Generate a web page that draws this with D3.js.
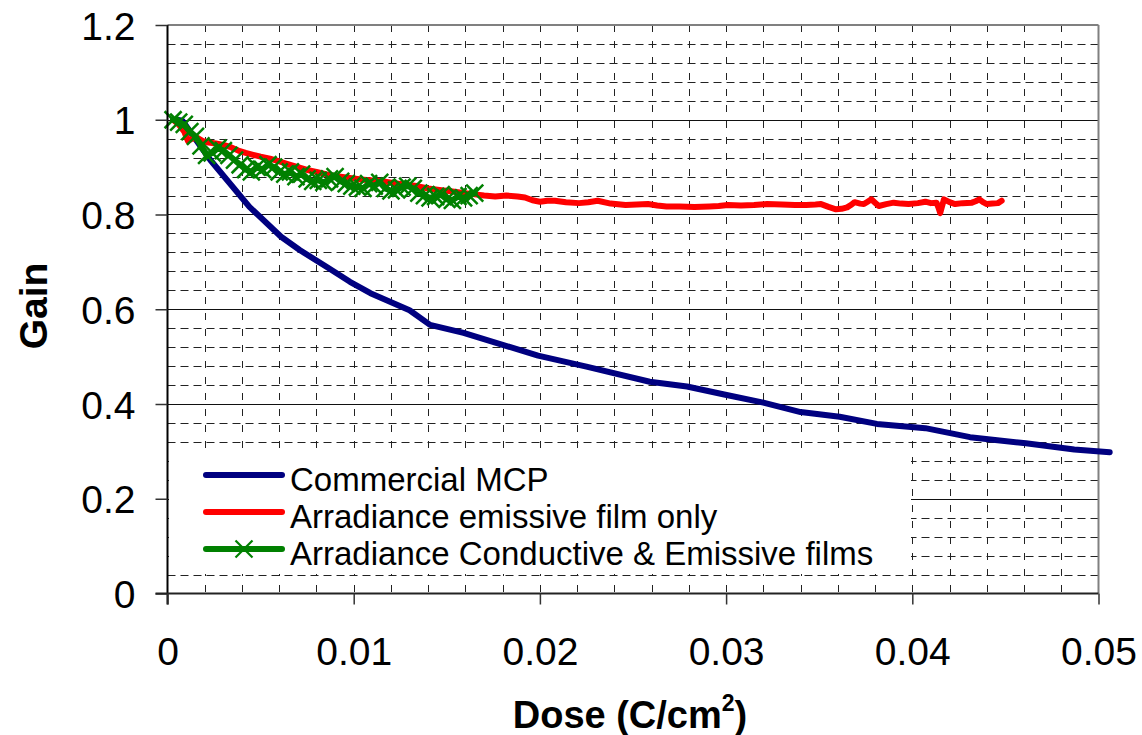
<!DOCTYPE html>
<html>
<head>
<meta charset="utf-8">
<script src="https://cdn.jsdelivr.net/npm/d3@7"></script>
<style>
  body { margin: 0; background: #fff; }
  svg { display: block; }
  text { font-family: "Liberation Sans", Arial, sans-serif; fill: #000; }
</style>
</head>
<body>
<svg id="chart" width="1142" height="735"></svg>
<script>
// ---- Data: gain vs. extracted charge dose ----
const seriesNames = [
  "Commercial MCP",
  "Arradiance emissive film only",
  "Arradiance Conductive & Emissive films"
];
const seriesColors = ["#000080", "#ff0000", "#008000"];

const mcpDose = [0.0005, 0.0008, 0.0023, 0.0044, 0.0061, 0.0071, 0.0086, 0.0098, 0.0109, 0.0130,
  0.0141, 0.0159, 0.0180, 0.0199, 0.0225, 0.0259, 0.0279, 0.0299, 0.0320, 0.0340,
  0.0361, 0.0381, 0.0407, 0.0431, 0.0461, 0.0487, 0.0506];
const mcpGain = [1.000, 0.998, 0.915, 0.816, 0.753, 0.725, 0.688, 0.658, 0.634, 0.598,
  0.567, 0.550, 0.525, 0.502, 0.479, 0.447, 0.437, 0.420, 0.403, 0.383,
  0.373, 0.358, 0.349, 0.330, 0.317, 0.304, 0.298];

const emissiveDose = [0.0003, 0.0006, 0.0009, 0.0011, 0.0013, 0.0016, 0.0019, 0.0022, 0.0026, 0.0030,
  0.0034, 0.0038, 0.0042, 0.0046, 0.0050, 0.0055, 0.0060, 0.0065, 0.0070, 0.0075,
  0.0080, 0.0086, 0.0092, 0.0098, 0.0104, 0.0110, 0.0116, 0.0122, 0.0128, 0.0134,
  0.0140, 0.0146, 0.0152, 0.0158, 0.0164, 0.0170, 0.0176, 0.0182, 0.0188, 0.0192,
  0.0196, 0.0200, 0.0204, 0.0208, 0.0214, 0.0221, 0.0226, 0.0231, 0.0238, 0.0246,
  0.0252, 0.0258, 0.0263, 0.0268, 0.0275, 0.0283, 0.0291, 0.0296, 0.0301, 0.0308,
  0.0315, 0.0322, 0.0330, 0.0337, 0.0343, 0.0348, 0.0351, 0.0355, 0.0359, 0.0362,
  0.0365, 0.0367, 0.0369, 0.0372, 0.0374, 0.0376, 0.0378, 0.0380, 0.0382, 0.0386,
  0.0390, 0.0394, 0.0398, 0.0403, 0.0407, 0.0410, 0.0413, 0.0414, 0.0415, 0.0417,
  0.0420, 0.0423, 0.0427, 0.0432, 0.0434, 0.0436, 0.0438, 0.0440, 0.0443, 0.0446,
  0.0448];
const emissiveGain = [1.000, 0.990, 0.975, 0.955, 0.960, 0.962, 0.955, 0.952, 0.950, 0.947,
  0.942, 0.935, 0.930, 0.926, 0.922, 0.918, 0.912, 0.906, 0.900, 0.894,
  0.890, 0.884, 0.880, 0.877, 0.874, 0.872, 0.870, 0.866, 0.863, 0.860,
  0.855, 0.852, 0.849, 0.846, 0.843, 0.840, 0.838, 0.840, 0.838, 0.836,
  0.830, 0.827, 0.829, 0.829, 0.826, 0.824, 0.826, 0.829, 0.823, 0.820,
  0.821, 0.822, 0.819, 0.817, 0.817, 0.816, 0.817, 0.818, 0.820, 0.819,
  0.820, 0.822, 0.821, 0.820, 0.820, 0.821, 0.822, 0.816, 0.811, 0.812,
  0.815, 0.820, 0.826, 0.823, 0.822, 0.827, 0.832, 0.825, 0.818, 0.822,
  0.825, 0.823, 0.822, 0.824, 0.827, 0.824, 0.825, 0.815, 0.803, 0.832,
  0.826, 0.822, 0.824, 0.825, 0.828, 0.832, 0.826, 0.822, 0.823, 0.824,
  0.829];

const dualDose = [0.0003, 0.0006, 0.0009, 0.0012, 0.0015, 0.0018, 0.0021, 0.0024, 0.0027, 0.0030,
  0.0033, 0.0036, 0.0039, 0.0042, 0.0045, 0.0048, 0.0051, 0.0054, 0.0057, 0.0060,
  0.0063, 0.0066, 0.0069, 0.0072, 0.0075, 0.0078, 0.0081, 0.0084, 0.0087, 0.0090,
  0.0093, 0.0096, 0.0099, 0.0102, 0.0105, 0.0108, 0.0111, 0.0114, 0.0117, 0.0120,
  0.0123, 0.0126, 0.0129, 0.0132, 0.0135, 0.0138, 0.0141, 0.0144, 0.0147, 0.0150,
  0.0153, 0.0156, 0.0159, 0.0162, 0.0165];
const dualGain = [1.000, 0.995, 0.990, 0.975, 0.965, 0.945, 0.925, 0.930, 0.940, 0.935,
  0.925, 0.915, 0.905, 0.895, 0.890, 0.900, 0.895, 0.905, 0.900, 0.890,
  0.885, 0.890, 0.880, 0.885, 0.875, 0.870, 0.872, 0.868, 0.875, 0.880,
  0.870, 0.865, 0.860, 0.858, 0.855, 0.865, 0.860, 0.868, 0.855, 0.850,
  0.852, 0.858, 0.860, 0.855, 0.845, 0.840, 0.835, 0.838, 0.842, 0.832,
  0.830, 0.838, 0.835, 0.840, 0.845];

const xTickValues = [0, 0.01, 0.02, 0.03, 0.04, 0.05];
const xTickLabels = ["0", "0.01", "0.02", "0.03", "0.04", "0.05"];
const yTickValues = [0, 0.2, 0.4, 0.6, 0.8, 1.0, 1.2];
const yTickLabels = ["0", "0.2", "0.4", "0.6", "0.8", "1", "1.2"];

// ---- Layout ----
const svg = d3.select("#chart");
const x = d3.scaleLinear().domain([0, 0.05]).range([167.5, 1098.5]);
const y = d3.scaleLinear().domain([0, 1.2]).range([593.5, 25]);

// ---- Grid ----
const grid = svg.append("g");
const minorX = d3.range(1, 25).map(i => i * 0.002);
const minorY = d3.range(1, 30).map(i => +(i * 0.04).toFixed(2)).filter(v => Math.abs(v / 0.2 - Math.round(v / 0.2)) > 1e-6);
const majorY = [0.2, 0.4, 0.6, 0.8, 1.0];

grid.selectAll(".vgrid").data(minorX).join("line")
  .attr("x1", d => Math.round(x(d)) + 0.5).attr("x2", d => Math.round(x(d)) + 0.5)
  .attr("y1", y(1.2)).attr("y2", y(0))
  .attr("stroke", "#222").attr("stroke-width", 1).attr("stroke-dasharray", "7,9");

grid.selectAll(".hgrid").data(minorY).join("line")
  .attr("x1", x(0)).attr("x2", x(0.05))
  .attr("y1", d => Math.round(y(d)) + 0.5).attr("y2", d => Math.round(y(d)) + 0.5)
  .attr("stroke", "#222").attr("stroke-width", 1).attr("stroke-dasharray", "8,5");

grid.selectAll(".hmajor").data(majorY).join("line")
  .attr("x1", x(0)).attr("x2", x(0.05))
  .attr("y1", d => Math.round(y(d)) + 0.5).attr("y2", d => Math.round(y(d)) + 0.5)
  .attr("stroke", "#111").attr("stroke-width", 1);

// plot-area border (top and right)
svg.append("line").attr("x1", x(0)).attr("x2", x(0.05)).attr("y1", y(1.2)).attr("y2", y(1.2))
  .attr("stroke", "#808080").attr("stroke-width", 2);
svg.append("line").attr("x1", x(0.05)).attr("x2", x(0.05)).attr("y1", y(1.2)).attr("y2", y(0))
  .attr("stroke", "#808080").attr("stroke-width", 2);

// ---- Series ----
const line = d3.line().x(d => x(d[0])).y(d => y(d[1]));
const mcp = mcpDose.map((d, i) => [d, mcpGain[i]]);
const emissive = emissiveDose.map((d, i) => [d, emissiveGain[i]]);
const dual = dualDose.map((d, i) => [d, dualGain[i]]);

const plot = svg.append("g");
plot.append("path").datum(mcp).attr("d", line)
  .attr("fill", "none").attr("stroke", seriesColors[0]).attr("stroke-width", 6)
  .attr("stroke-linejoin", "round").attr("stroke-linecap", "round");
plot.append("path").datum(emissive).attr("d", line)
  .attr("fill", "none").attr("stroke", seriesColors[1]).attr("stroke-width", 6)
  .attr("stroke-linejoin", "round").attr("stroke-linecap", "round");
plot.append("path").datum(dual).attr("d", line)
  .attr("fill", "none").attr("stroke", seriesColors[2]).attr("stroke-width", 6)
  .attr("stroke-linejoin", "round").attr("stroke-linecap", "round");

const cross = "M-8.5,-8.5L8.5,8.5M-8.5,8.5L8.5,-8.5";
plot.selectAll(".mark").data(dual).join("path")
  .attr("transform", d => `translate(${x(d[0])},${y(d[1])})`)
  .attr("d", cross).attr("fill", "none")
  .attr("stroke", seriesColors[2]).attr("stroke-width", 2.5);

// ---- Legend ----
const legend = svg.append("g");
legend.append("rect").attr("x", 169).attr("y", 452).attr("width", 742).attr("height", 122).attr("fill", "#fff");
const legendRows = [475, 512, 549];
seriesNames.forEach((name, i) => {
  const ly = legendRows[i];
  legend.append("line").attr("x1", 206).attr("x2", 282).attr("y1", ly).attr("y2", ly)
    .attr("stroke", seriesColors[i]).attr("stroke-width", 6).attr("stroke-linecap", "round");
  if (i === 2) {
    legend.append("path").attr("transform", `translate(244,${ly})`)
      .attr("d", "M-8.5,-8.5L8.5,8.5M-8.5,8.5L8.5,-8.5").attr("stroke", seriesColors[2]).attr("stroke-width", 2.2);
  }
  legend.append("text").attr("x", 290).attr("y", ly + 16)
    .attr("font-size", 33).text(name);
});

// ---- Axes ----
const yAxis = d3.axisLeft(y).tickValues(yTickValues).tickSize(12).tickPadding(20)
  .tickFormat((d, i) => yTickLabels[i]);
const gy = svg.append("g").attr("transform", `translate(${x(0)},0)`).call(yAxis);
gy.select(".domain").attr("stroke", "#000").attr("stroke-width", 2)
  .attr("d", `M0,${y(1.2)}V${y(0) + 11}`);
gy.selectAll(".tick line").attr("stroke", "#333").attr("stroke-width", 1.5);
gy.selectAll(".tick text").attr("font-size", 39).attr("dy", "0.36em")
  .style("font-family", "'Liberation Sans', Arial, sans-serif").attr("fill", "#000");

const xAxis = d3.axisBottom(x).tickValues(xTickValues).tickSize(11).tickPadding(32)
  .tickFormat((d, i) => xTickLabels[i]);
const gx = svg.append("g").attr("transform", `translate(0,${y(0)})`).call(xAxis);
gx.select(".domain").attr("stroke", "#222").attr("stroke-width", 2)
  .attr("d", `M${x(0) - 12},0H${x(0.05)}`);
gx.selectAll(".tick line").attr("stroke", "#333").attr("stroke-width", 1.5);
gx.selectAll(".tick text").attr("font-size", 39).attr("y", 71).attr("dy", 0)
  .style("font-family", "'Liberation Sans', Arial, sans-serif").attr("fill", "#000");

// ---- Axis titles ----
const xt = svg.append("text").attr("x", 630).attr("y", 728)
  .attr("text-anchor", "middle").attr("font-size", 38).attr("font-weight", "bold");
xt.append("tspan").text("Dose (C/cm");
xt.append("tspan").attr("font-size", 23).attr("dy", -17).text("2");
xt.append("tspan").attr("dy", 17).text(")");

svg.append("text").attr("transform", "translate(47,306) rotate(-90)")
  .attr("text-anchor", "middle").attr("font-size", 39).attr("font-weight", "bold").text("Gain");
</script>
</body>
</html>
